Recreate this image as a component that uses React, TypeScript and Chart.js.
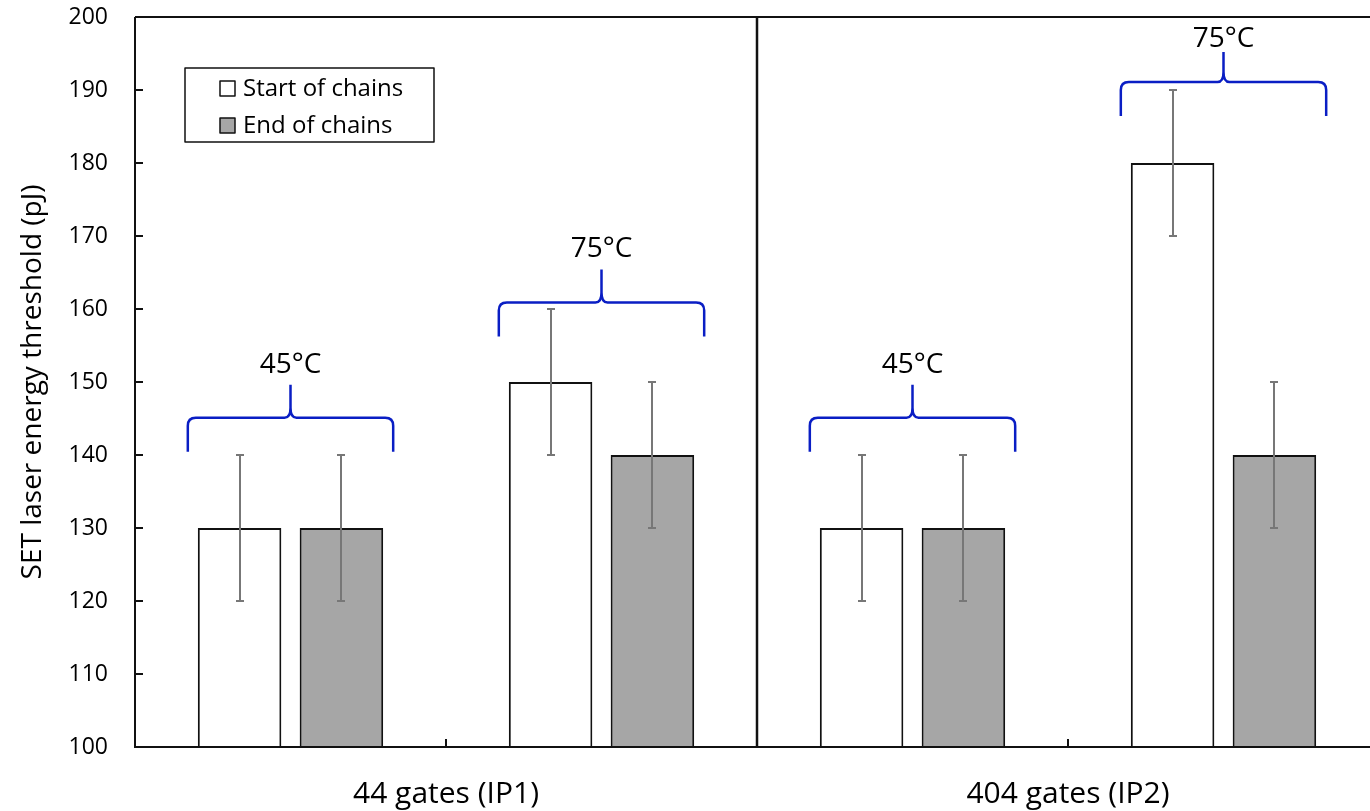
import React, { useEffect, useRef } from "react";
import { Chart, registerables } from "chart.js";

Chart.register(...registerables);

// ---- data ----
const categories = ["45°C", "75°C", "45°C", "75°C"];
const groupLabels = ["44 gates (IP1)", "404 gates (IP2)"];
const seriesNames = ["Start of chains", "End of chains"];
const startValues = [130, 150, 130, 180];
const endValues = [130, 140, 130, 140];
const startErrors = [10, 10, 10, 10];
const endErrors = [10, 10, 10, 10];
const braceLevels = [145.1, 160.9, 145.1, 191.1];
const yAxisTitle = "SET laser energy threshold (pJ)";
const yMin = 100;
const yMax = 200;
const yStep = 10;

const FONT = "'Open Sans', 'Noto Sans', sans-serif";
const BRACE_COLOR = "#0a1ec4";

const overlayPlugin = {
  id: "overlay",
  afterDatasetsDraw(chart: any) {
    const ctx = chart.ctx;
    const y = chart.scales.y;
    const errs = [startErrors, endErrors];
    ctx.save();
    ctx.strokeStyle = "#777777";
    ctx.lineWidth = 2;
    chart.data.datasets.forEach((ds: any, di: number) => {
      const meta = chart.getDatasetMeta(di);
      meta.data.forEach((bar: any, i: number) => {
        const v = ds.data[i];
        const e = errs[di][i];
        const x = Math.round(bar.x);
        const yHi = y.getPixelForValue(v + e);
        const yLo = y.getPixelForValue(v - e);
        ctx.beginPath();
        ctx.moveTo(x, yHi);
        ctx.lineTo(x, yLo);
        ctx.moveTo(x - 4, yHi);
        ctx.lineTo(x + 4, yHi);
        ctx.moveTo(x - 4, yLo);
        ctx.lineTo(x + 4, yLo);
        ctx.stroke();
      });
    });
    ctx.restore();
  },
  afterDraw(chart: any) {
    const ctx = chart.ctx;
    const { left, right, top, bottom } = chart.chartArea;
    const x = chart.scales.x;
    const y = chart.scales.y;
    ctx.save();
    // axes frame
    ctx.strokeStyle = "#111111";
    ctx.lineWidth = 2;
    ctx.beginPath();
    ctx.moveTo(left, top);
    ctx.lineTo(left, bottom);
    ctx.lineTo(right, bottom);
    ctx.moveTo(left, top);
    ctx.lineTo(right, top);
    ctx.stroke();
    // y ticks (inward)
    ctx.beginPath();
    for (let v = yMin; v <= yMax; v += yStep) {
      const py = Math.round(y.getPixelForValue(v));
      ctx.moveTo(left, py);
      ctx.lineTo(left + 8, py);
    }
    ctx.stroke();
    // x boundaries
    const boundaries: number[] = [];
    for (let i = 0; i < categories.length - 1; i++) {
      boundaries.push(Math.round((x.getPixelForValue(i) + x.getPixelForValue(i + 1)) / 2));
    }
    ctx.beginPath();
    boundaries.forEach((bx, i) => {
      if (i === 1) return;
      ctx.moveTo(bx, bottom);
      ctx.lineTo(bx, bottom - 8);
    });
    ctx.stroke();
    // divider between groups
    ctx.lineWidth = 2.5;
    ctx.beginPath();
    ctx.moveTo(boundaries[1], top);
    ctx.lineTo(boundaries[1], bottom);
    ctx.stroke();

    // group labels
    ctx.fillStyle = "#000";
    ctx.font = `30px ${FONT}`;
    ctx.textAlign = "center";
    ctx.textBaseline = "alphabetic";
    groupLabels.forEach((g, gi) => {
      const cx = (x.getPixelForValue(gi * 2) + x.getPixelForValue(gi * 2 + 1)) / 2;
      ctx.fillText(g, cx, bottom + 56);
    });

    // braces
    const m0 = chart.getDatasetMeta(0);
    const m1 = chart.getDatasetMeta(1);
    categories.forEach((c, i) => {
      const b0 = m0.data[i];
      const b1 = m1.data[i];
      const x0 = b0.x - b0.width / 2 - 10;
      const x1 = b1.x + b1.width / 2 + 10;
      const xc = (x0 + x1) / 2;
      const H = y.getPixelForValue(braceLevels[i]);
      const yEnd = H + 34;
      const yTip = Math.max(H - 33, top + 35);
      const r = 8;
      ctx.strokeStyle = BRACE_COLOR;
      ctx.lineWidth = 2.5;
      ctx.lineJoin = "round";
      ctx.beginPath();
      ctx.moveTo(x0, yEnd);
      ctx.lineTo(x0, H + r);
      ctx.quadraticCurveTo(x0, H, x0 + r, H);
      ctx.lineTo(xc - 6, H);
      ctx.quadraticCurveTo(xc, H, xc, H - 10);
      ctx.lineTo(xc, yTip);
      ctx.moveTo(xc, H - 10);
      ctx.quadraticCurveTo(xc, H, xc + 6, H);
      ctx.lineTo(x1 - r, H);
      ctx.quadraticCurveTo(x1, H, x1, H + r);
      ctx.lineTo(x1, yEnd);
      ctx.stroke();
      ctx.fillStyle = "#000";
      ctx.font = `28px ${FONT}`;
      ctx.textAlign = "center";
      ctx.textBaseline = "alphabetic";
      ctx.fillText(c, xc, Math.max(H - 45, top + 30));
    });

    // legend
    const lx = left + 50;
    const ly = top + 51;
    ctx.fillStyle = "#fff";
    ctx.fillRect(lx, ly, 249, 74);
    ctx.strokeStyle = "#111";
    ctx.lineWidth = 1.5;
    ctx.strokeRect(lx, ly, 249, 74);
    ctx.font = `24px ${FONT}`;
    ctx.textAlign = "left";
    chart.data.datasets.forEach((ds: any, di: number) => {
      const sy = ly + 13 + di * 37;
      ctx.fillStyle = ds.backgroundColor;
      ctx.fillRect(lx + 35, sy, 15, 15);
      ctx.strokeStyle = "#111";
      ctx.lineWidth = 1.5;
      ctx.strokeRect(lx + 35, sy, 15, 15);
      ctx.fillStyle = "#000";
      ctx.fillText(ds.label, lx + 58, sy + 15);
    });
    ctx.restore();
  },
};

export default function App() {
  const ref = useRef<HTMLCanvasElement | null>(null);
  useEffect(() => {
    if (!ref.current) return;
    const chart = new Chart(ref.current, {
      type: "bar",
      data: {
        labels: categories,
        datasets: [
          {
            label: seriesNames[0],
            data: startValues,
            backgroundColor: "#ffffff",
            borderColor: "#111111",
            borderWidth: 2,
            categoryPercentage: 0.655,
            barPercentage: 0.82,
          },
          {
            label: seriesNames[1],
            data: endValues,
            backgroundColor: "#a6a6a6",
            borderColor: "#111111",
            borderWidth: 2,
            categoryPercentage: 0.655,
            barPercentage: 0.82,
          },
        ],
      },
      options: {
        animation: false,
        responsive: false,
        devicePixelRatio: 1,
        layout: { padding: { left: 0, top: 17, right: 21, bottom: 64 } },
        plugins: { legend: { display: false }, tooltip: { enabled: false } },
        scales: {
          x: { display: false },
          y: {
            min: yMin,
            max: yMax,
            border: { display: false },
            grid: { display: false, drawTicks: false },
            ticks: {
              stepSize: yStep,
              color: "#000",
              padding: 27,
              font: { family: FONT, size: 23 },
            },
            title: {
              display: true,
              text: yAxisTitle,
              color: "#000",
              font: { family: FONT, size: 28 },
              padding: { top: 16, bottom: 0 },
            },
            afterFit: (scale: any) => {
              scale.width = 135;
              scale.paddingTop = 0;
              scale.paddingBottom = 0;
            },
          },
        },
      },
      plugins: [overlayPlugin],
    });
    return () => chart.destroy();
  }, []);
  return (
    <div
      style={{
        position: "fixed",
        left: 0,
        top: 0,
        width: 1370,
        height: 811,
        overflow: "hidden",
        background: "#fff",
      }}
    >
      <canvas ref={ref} width={1400} height={811} style={{ display: "block" }} />
    </div>
  );
}
